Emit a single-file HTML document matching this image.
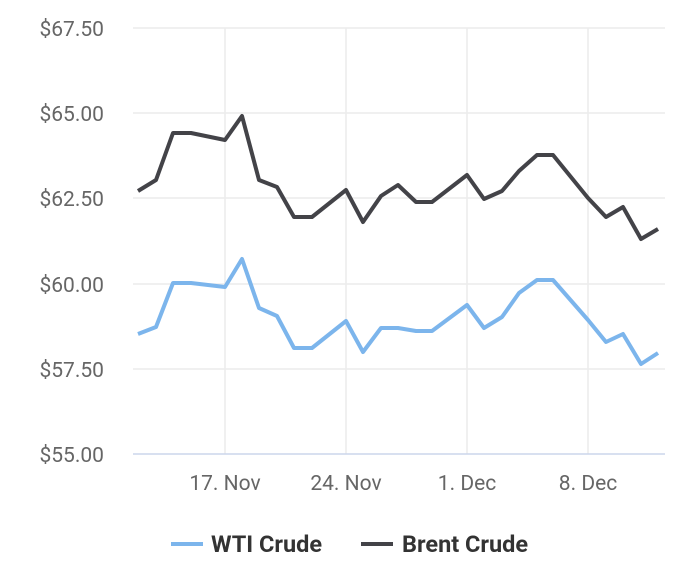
<!DOCTYPE html>
<html><head><meta charset="utf-8"><style>body{margin:0;background:#fff}</style></head><body>
<svg width="700" height="567" xmlns="http://www.w3.org/2000/svg" font-family="Roboto, 'Liberation Sans', sans-serif">
<rect width="700" height="567" fill="#fff"/>
<g stroke="#ececec" stroke-width="1.5">
<line x1="133" y1="28" x2="665" y2="28"/><line x1="133" y1="113" x2="665" y2="113"/><line x1="133" y1="198" x2="665" y2="198"/><line x1="133" y1="284" x2="665" y2="284"/><line x1="133" y1="369" x2="665" y2="369"/>
<line x1="225" y1="28" x2="225" y2="454"/><line x1="346" y1="28" x2="346" y2="454"/><line x1="467" y1="28" x2="467" y2="454"/><line x1="588" y1="28" x2="588" y2="454"/>
</g>
<line x1="133" y1="454" x2="665" y2="454" stroke="#ccd6eb" stroke-width="1.5"/>
<g fill="#666" font-size="21" text-anchor="end">
<text x="104" y="36">$67.50</text><text x="104" y="121">$65.00</text><text x="104" y="206">$62.50</text><text x="104" y="292">$60.00</text><text x="104" y="377">$57.50</text><text x="104" y="462">$55.00</text>
</g>
<g fill="#666" font-size="21" text-anchor="middle">
<text x="225" y="490">17. Nov</text><text x="346" y="490">24. Nov</text><text x="467" y="490">1. Dec</text><text x="588" y="490">8. Dec</text>
</g>
<polyline fill="none" stroke="#7cb5ec" stroke-width="4" stroke-linejoin="round" points="138,334 156,327 173,283 191,283 225,287 242,259 259,308 277,316 294,348 312,348 346,321 363,352 381,328 398,328 416,331 432,331 467,305 484,328 502,317 519,293 537,280 553,280 588,320 606,342 623,334 641,364 658,353"/>
<polyline fill="none" stroke="#434348" stroke-width="4" stroke-linejoin="round" points="138,191 156,180 173,133 191,133 225,140 242,116 259,180 277,187 294,217 312,217 346,190 363,222 381,196 398,185 416,202 432,202 467,175 484,199 502,191 519,171 537,155 553,155 588,198 606,217 623,207 641,239 658,229"/>
<line x1="171" y1="544" x2="203" y2="544" stroke="#7cb5ec" stroke-width="4"/>
<text x="211" y="552" font-size="23.5" font-weight="bold" fill="#333">WTI Crude</text>
<line x1="361" y1="544" x2="393" y2="544" stroke="#434348" stroke-width="4"/>
<text x="402" y="552" font-size="23.5" font-weight="bold" fill="#333">Brent Crude</text>
</svg>
</body></html>
